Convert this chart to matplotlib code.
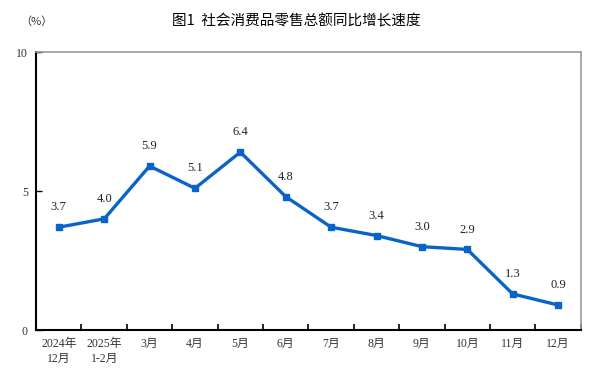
import matplotlib.pyplot as plt

# 社会消费品零售总额同比增长速度 (%)
categories = ["2024年\n12月", "2025年\n1-2月", "3月", "4月", "5月", "6月",
              "7月", "8月", "9月", "10月", "11月", "12月"]
growth = [3.7, 4.0, 5.9, 5.1, 6.4, 4.8, 3.7, 3.4, 3.0, 2.9, 1.3, 0.9]
y_ticks = [0, 5, 10]

fonts = ["Liberation Serif", "Noto Sans CJK SC"]
line_color = "#0a63c9"
label_color = "#333333"

fig = plt.figure(figsize=(5.92, 3.86), dpi=100)
ax = fig.add_axes([0.061, 0.145, 0.92, 0.72])

x = list(range(len(growth)))
ax.plot(x, growth, color=line_color, linewidth=2.4, marker="s", markersize=4.5)

for xi, v in zip(x, growth):
    ax.annotate(f"{v:.1f}", (xi, v), xytext=(0, 10), textcoords="offset points",
                ha="center", va="bottom", fontsize=9, family=fonts, color="#222222")

ax.set_xlim(-0.5, len(growth) - 0.5)
ax.set_ylim(0, 10)
ax.set_yticks(y_ticks)
ax.set_yticklabels([str(t) for t in y_ticks], family=fonts, fontsize=8.5, color=label_color)

# ticks between categories, labels centred
ax.set_xticks([i + 0.5 for i in x[:-1]] + [len(growth) - 0.5])
ax.set_xticklabels([])
ax.set_xticks(x, minor=True)
ax.set_xticklabels(categories, minor=True, family=fonts, fontsize=8.5,
                   linespacing=1.3, color=label_color)
ax.tick_params(axis="x", which="minor", length=0, pad=6)
ax.tick_params(axis="x", which="major", direction="in", length=4, width=1.2)
ax.tick_params(axis="y", direction="in", length=4, width=1, pad=6)

for side in ["left", "bottom"]:
    ax.spines[side].set_color("black")
    ax.spines[side].set_linewidth(1.5)
for side in ["top", "right"]:
    ax.spines[side].set_color("#999999")
    ax.spines[side].set_linewidth(1.2)

fig.text(0.5, 0.945, "图1  社会消费品零售总额同比增长速度", ha="center", va="center",
         fontsize=10.5, family=["Noto Sans CJK SC", "DejaVu Sans"], weight="medium")
fig.text(0.034, 0.943, "（%）", ha="left", va="center", fontsize=8,
         family=["Noto Sans CJK SC", "DejaVu Sans"], color="#333333")

fig.savefig("out.png", dpi=100)
